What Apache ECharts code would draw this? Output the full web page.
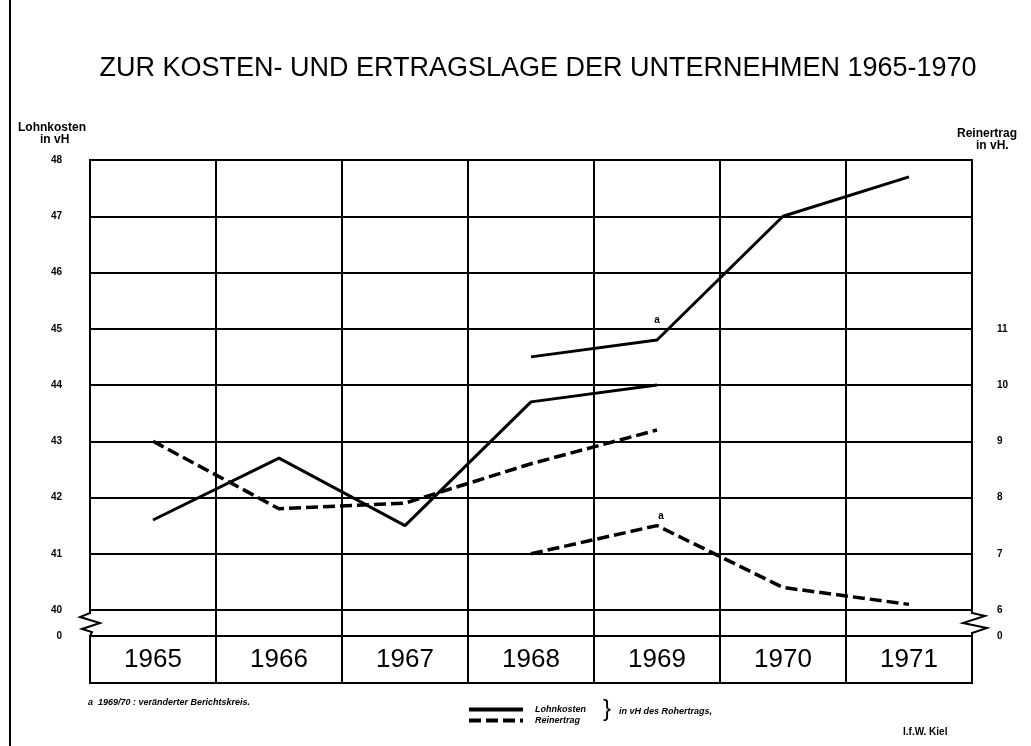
<!DOCTYPE html>
<html>
<head>
<meta charset="utf-8">
<script src="https://cdn.jsdelivr.net/npm/echarts@6/dist/echarts.min.js"></script>
<style>
  html, body { margin: 0; padding: 0; background: #fff; }
  #main { width: 1031px; height: 746px; }
</style>
</head>
<body>
<div id="main"></div>
<script>
// Jahre (Kategorien)
var years = ["1965", "1966", "1967", "1968", "1969", "1970", "1971"];
// Lohnkosten in vH (linke Achse)
var lohnkosten = [41.6, 42.7, 41.5, 43.7, 44.0, null, null];
// Reinertrag in vH (rechte Achse)
var reinertrag = [9.0, 7.8, 7.9, 8.6, 9.2, null, null];
// a: 1969/70 veraenderter Berichtskreis
var lohnkostenA = [null, null, null, 44.5, 44.8, 47.0, 47.7];
var reinertragA = [null, null, null, 7.0, 7.5, 6.4, 6.1];
var noteIndex = 4;
// Achsenbeschriftung
var leftTicks = { min: 40, max: 48, step: 1 };
var rightTicks = { min: 6, max: 14, step: 1, lastShown: 11 };

var FONT = "Liberation Sans";
var chart = echarts.init(document.getElementById("main"));

function withNote(arr, lbl) {
  return arr.map(function (v, i) {
    if (i === noteIndex && v != null) {
      return { value: v, label: lbl };
    }
    return v;
  });
}

var noteStyle = { show: true, formatter: "a", color: "#000", opacity: 1, fontSize: 10, fontWeight: "bold", fontFamily: FONT };

var gridPos = { left: 90, right: 59 };
var catAxis = function (gi, extra) {
  return Object.assign({
    type: "category", gridIndex: gi, data: years, boundaryGap: true,
    axisLine: { show: false }, axisTick: { show: false },
    axisLabel: { show: false },
    splitLine: { show: true, interval: 0, lineStyle: { color: "#000", width: 2 } }
  }, extra || {});
};

function lineSeries(name, yIdx, data, dashed) {
  return {
    name: name, type: "line", xAxisIndex: 0, yAxisIndex: yIdx,
    data: data, symbol: "circle", symbolSize: 1, showSymbol: true, showAllSymbol: true,
    itemStyle: { color: "rgba(0,0,0,0)" },
    lineStyle: dashed ? { color: "#000", width: 3.5, type: [12, 5] } : { color: "#000", width: 3 }
  };
}

var option = {
  animation: false,
  backgroundColor: "#fff",
  title: {
    text: "ZUR KOSTEN- UND ERTRAGSLAGE DER UNTERNEHMEN 1965-1970",
    left: 533, top: 50, textAlign: "center",
    textStyle: { fontFamily: FONT, fontSize: 27, fontWeight: "normal", color: "#000" }
  },
  legend: {
    data: ["Lohnkosten", "Reinertrag"],
    orient: "vertical", left: 462, top: 700,
    itemWidth: 54, itemHeight: 8, itemGap: 2,
    itemStyle: { opacity: 0 },
    lineStyle: { width: 4 },
    textStyle: { fontFamily: FONT, fontSize: 9, fontStyle: "italic", fontWeight: "bold", color: "#000", padding: [0, 0, 0, 7] }
  },
  grid: [
    Object.assign({ top: 160, height: 450, show: true, borderColor: "#000", borderWidth: 2 }, gridPos),
    Object.assign({ top: 610, height: 26 }, gridPos),
    Object.assign({ top: 636, height: 47, show: true, borderColor: "#000", borderWidth: 2 }, gridPos)
  ],
  xAxis: [
    catAxis(0),
    catAxis(1, { splitLine: { show: true, interval: 0, showMinLine: false, showMaxLine: false, lineStyle: { color: "#000", width: 2 } } }),
    catAxis(2, {
      position: "top",
      axisLabel: { show: true, inside: true, interval: 0, margin: 11, fontSize: 26, fontFamily: FONT, color: "#000" }
    })
  ],
  yAxis: [
    {
      type: "value", gridIndex: 0, position: "left",
      min: leftTicks.min, max: leftTicks.max, interval: leftTicks.step,
      axisLine: { show: true, lineStyle: { color: "#000", width: 2 } }, axisTick: { show: false },
      axisLabel: { margin: 28, fontSize: 10, fontWeight: "bold", fontFamily: FONT, color: "#000" },
      splitLine: { show: true, lineStyle: { color: "#000", width: 2 } }
    },
    {
      type: "value", gridIndex: 0, position: "right",
      min: rightTicks.min, max: rightTicks.max, interval: rightTicks.step,
      axisLine: { show: true, lineStyle: { color: "#000", width: 2 } }, axisTick: { show: false },
      axisLabel: {
        margin: 25, fontSize: 10, fontWeight: "bold", fontFamily: FONT, color: "#000",
        formatter: function (v) { return v <= rightTicks.lastShown ? String(v) : ""; }
      },
      splitLine: { show: false }
    },
    {
      type: "value", gridIndex: 1, position: "left", min: 0, max: 1, interval: 1,
      axisLine: { show: false }, axisTick: { show: false }, splitLine: { show: false },
      axisLabel: { margin: 28, fontSize: 10, fontWeight: "bold", fontFamily: FONT, color: "#000",
        formatter: function (v) { return v === 0 ? "0" : ""; } }
    },
    {
      type: "value", gridIndex: 1, position: "right", min: 0, max: 1, interval: 1,
      axisLine: { show: false }, axisTick: { show: false }, splitLine: { show: false },
      axisLabel: { margin: 25, fontSize: 10, fontWeight: "bold", fontFamily: FONT, color: "#000",
        formatter: function (v) { return v === 0 ? "0" : ""; } }
    },
    { type: "value", gridIndex: 2, show: false, min: 0, max: 1 }
  ],
  series: [
    lineSeries("Lohnkosten", 0, lohnkosten, false),
    lineSeries("Reinertrag", 1, reinertrag, true),
    lineSeries("Lohnkosten a", 0,
      withNote(lohnkostenA, Object.assign({ position: "top", distance: 14 }, noteStyle)), false),
    lineSeries("Reinertrag a", 1,
      withNote(reinertragA, Object.assign({ position: "top", distance: 4, offset: [4, 0] }, noteStyle)), true)
  ],
  graphic: [
    // Rahmenlinie links
    { type: "line", shape: { x1: 10, y1: 0, x2: 10, y2: 746 }, style: { stroke: "#000", lineWidth: 2 } },
    // Achsenbruch
    { type: "polyline", shape: { points: [[90, 610], [90, 613], [80, 617], [100, 623], [82, 629], [92, 632], [90, 636]] },
      style: { stroke: "#000", lineWidth: 2, fill: null } },
    { type: "polyline", shape: { points: [[972, 610], [972, 613], [985, 616], [963, 623], [987, 628], [972, 633], [972, 636]] },
      style: { stroke: "#000", lineWidth: 2, fill: null } },
    // Achsentitel
    { type: "text", left: 18, top: 122, style: { text: "Lohnkosten", fontSize: 12, fontWeight: "bold", fontFamily: FONT, fill: "#000" } },
    { type: "text", left: 40, top: 134, style: { text: "in vH", fontSize: 12, fontWeight: "bold", fontFamily: FONT, fill: "#000" } },
    { type: "text", left: 957, top: 128, style: { text: "Reinertrag", fontSize: 12, fontWeight: "bold", fontFamily: FONT, fill: "#000" } },
    { type: "text", left: 976, top: 140, style: { text: "in vH.", fontSize: 12, fontWeight: "bold", fontFamily: FONT, fill: "#000" } },
    // Fussnote, Legendenzusatz, Quelle
    { type: "text", left: 88, top: 698, style: { text: "a  1969/70 : veränderter Berichtskreis.", fontSize: 9, fontStyle: "italic", fontWeight: "bold", fontFamily: FONT, fill: "#000" } },
    { type: "text", left: 603, top: 697, style: { text: "}", fontSize: 24, fontFamily: FONT, fill: "#000" } },
    { type: "text", left: 619, top: 707, style: { text: "in vH des Rohertrags,", fontSize: 9, fontStyle: "italic", fontWeight: "bold", fontFamily: FONT, fill: "#000" } },
    { type: "text", left: 903, top: 727, style: { text: "I.f.W. Kiel", fontSize: 10, fontWeight: "bold", fontFamily: FONT, fill: "#000" } }
  ]
};

chart.setOption(option);
</script>
</body>
</html>
